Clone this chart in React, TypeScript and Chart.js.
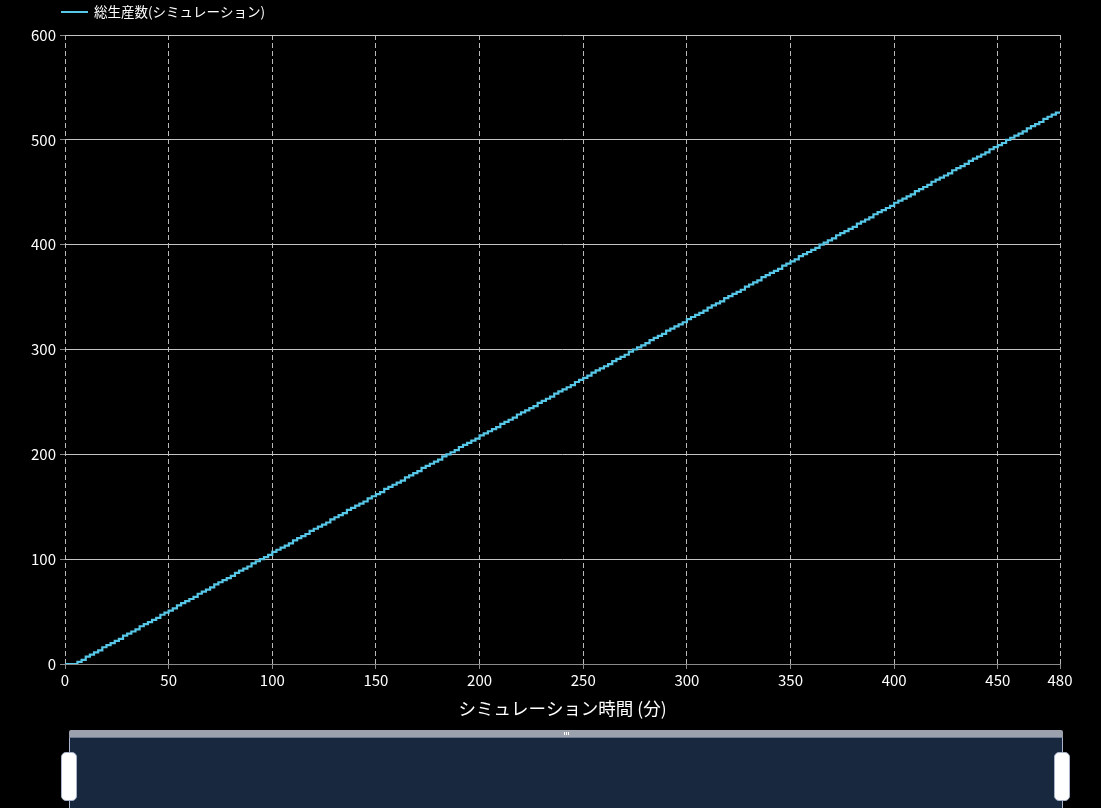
import React, { useEffect, useRef } from "react";
import { Chart, registerables } from "chart.js";

Chart.register(...registerables);

// Simulation time (minutes), sampled every 2 minutes
const simTimes = [
  0, 2, 4, 6, 8, 10, 12, 14, 16, 18,
  20, 22, 24, 26, 28, 30, 32, 34, 36, 38,
  40, 42, 44, 46, 48, 50, 52, 54, 56, 58,
  60, 62, 64, 66, 68, 70, 72, 74, 76, 78,
  80, 82, 84, 86, 88, 90, 92, 94, 96, 98,
  100, 102, 104, 106, 108, 110, 112, 114, 116, 118,
  120, 122, 124, 126, 128, 130, 132, 134, 136, 138,
  140, 142, 144, 146, 148, 150, 152, 154, 156, 158,
  160, 162, 164, 166, 168, 170, 172, 174, 176, 178,
  180, 182, 184, 186, 188, 190, 192, 194, 196, 198,
  200, 202, 204, 206, 208, 210, 212, 214, 216, 218,
  220, 222, 224, 226, 228, 230, 232, 234, 236, 238,
  240, 242, 244, 246, 248, 250, 252, 254, 256, 258,
  260, 262, 264, 266, 268, 270, 272, 274, 276, 278,
  280, 282, 284, 286, 288, 290, 292, 294, 296, 298,
  300, 302, 304, 306, 308, 310, 312, 314, 316, 318,
  320, 322, 324, 326, 328, 330, 332, 334, 336, 338,
  340, 342, 344, 346, 348, 350, 352, 354, 356, 358,
  360, 362, 364, 366, 368, 370, 372, 374, 376, 378,
  380, 382, 384, 386, 388, 390, 392, 394, 396, 398,
  400, 402, 404, 406, 408, 410, 412, 414, 416, 418,
  420, 422, 424, 426, 428, 430, 432, 434, 436, 438,
  440, 442, 444, 446, 448, 450, 452, 454, 456, 458,
  460, 462, 464, 466, 468, 470, 472, 474, 476, 478,
  480,
];

// Cumulative total production (units) at each sampled time
const totalProduced = [
  0, 0, 0, 0, 2, 4, 7, 9, 11, 13,
  16, 18, 20, 22, 24, 27, 29, 31, 33, 36,
  38, 40, 42, 44, 47, 49, 51, 53, 56, 58,
  60, 62, 64, 67, 69, 71, 73, 76, 78, 80,
  82, 84, 87, 89, 91, 93, 96, 98, 100, 102,
  104, 107, 109, 111, 113, 115, 118, 120, 122, 124,
  127, 129, 131, 133, 135, 138, 140, 142, 144, 147,
  149, 151, 153, 155, 158, 160, 162, 164, 167, 169,
  171, 173, 175, 178, 180, 182, 184, 187, 189, 191,
  193, 195, 198, 200, 202, 204, 207, 209, 211, 213,
  215, 218, 220, 222, 224, 226, 229, 231, 233, 235,
  238, 240, 242, 244, 246, 249, 251, 253, 255, 258,
  260, 262, 264, 266, 269, 271, 273, 275, 278, 280,
  282, 284, 286, 289, 291, 293, 295, 298, 300, 302,
  304, 306, 309, 311, 313, 315, 318, 320, 322, 324,
  326, 329, 331, 333, 335, 337, 340, 342, 344, 346,
  349, 351, 353, 355, 357, 360, 362, 364, 366, 369,
  371, 373, 375, 377, 380, 382, 384, 386, 389, 391,
  393, 395, 397, 400, 402, 404, 406, 409, 411, 413,
  415, 417, 420, 422, 424, 426, 429, 431, 433, 435,
  437, 440, 442, 444, 446, 448, 451, 453, 455, 457,
  460, 462, 464, 466, 468, 471, 473, 475, 477, 480,
  482, 484, 486, 488, 491, 493, 495, 497, 500, 502,
  504, 506, 508, 511, 513, 515, 517, 520, 522, 524,
  526,
];

const xTickValues = [0, 50, 100, 150, 200, 250, 300, 350, 400, 450, 480];
const yTickValues = [0, 100, 200, 300, 400, 500, 600];

const seriesName = "総生産数(シミュレーション)";
const xAxisTitle = "シミュレーション時間 (分)";

const FONT = "'Noto Sans CJK JP', 'Noto Sans', sans-serif";
const LINE_COLOR = "#58c8e8";

export default function App() {
  const canvasRef = useRef<HTMLCanvasElement | null>(null);

  useEffect(() => {
    const canvas = canvasRef.current;
    if (!canvas) return;

    const legendPlugin = {
      id: "customLegend",
      afterDraw(chart: any) {
        const ctx = chart.ctx;
        ctx.save();
        ctx.strokeStyle = LINE_COLOR;
        ctx.lineWidth = 2;
        ctx.beginPath();
        ctx.moveTo(61, 12);
        ctx.lineTo(88, 12);
        ctx.stroke();
        ctx.fillStyle = "#ffffff";
        ctx.font = `13.5px ${FONT}`;
        ctx.textBaseline = "middle";
        ctx.textAlign = "left";
        ctx.fillText(chart.data.datasets[0].label, 94, 12);
        ctx.restore();
      },
    };

    const chart = new Chart(canvas, {
      type: "line",
      data: {
        datasets: [
          {
            label: seriesName,
            data: simTimes.map((t, i) => ({ x: t, y: totalProduced[i] })),
            borderColor: LINE_COLOR,
            backgroundColor: LINE_COLOR,
            borderWidth: 2.2,
            pointRadius: 0,
            stepped: "after",
            fill: false,
          },
        ],
      },
      options: {
        responsive: false,
        animation: false,
        devicePixelRatio: 1,
        layout: { padding: { left: 0, top: 35, right: 41, bottom: 89 } },
        plugins: {
          legend: { display: false },
          tooltip: { enabled: false },
        },
        scales: {
          x: {
            type: "linear",
            min: 0,
            max: 480,
            afterBuildTicks: (scale: any) => {
              scale.ticks = xTickValues.map((v) => ({ value: v }));
            },
            afterFit: (scale: any) => {
              scale.height = 55;
            },
            ticks: {
              color: "#ffffff",
              font: { family: FONT, size: 15 },
              padding: 2,
              autoSkip: false,
              maxRotation: 0,
              minRotation: 0,
            },
            grid: {
              color: "#b8b8b8",
              lineWidth: 1,
              tickColor: "#8a8a8a",
              tickLength: 5,
              tickBorderDash: [],
            },
            border: { display: true, color: "#8a8a8a", width: 1, dash: [5, 3] },
            title: {
              display: true,
              text: xAxisTitle,
              color: "#ffffff",
              font: { family: FONT, size: 17.5 },
              padding: { top: 0, bottom: 0 },
            },
          },
          y: {
            type: "linear",
            min: 0,
            max: 600,
            afterBuildTicks: (scale: any) => {
              scale.ticks = yTickValues.map((v) => ({ value: v }));
            },
            afterFit: (scale: any) => {
              scale.width = 65;
            },
            ticks: {
              color: "#ffffff",
              font: { family: FONT, size: 15 },
              padding: 4,
            },
            grid: {
              color: (ctx: any) => (ctx.tick && ctx.tick.value === 0 ? "#8a8a8a" : "#c4c4c4"),
              lineWidth: 1,
              tickColor: "#8a8a8a",
              tickLength: 5,
            },
            border: { display: false },
          },
        },
      },
      plugins: [legendPlugin],
    } as any);

    return () => {
      chart.destroy();
    };
  }, []);

  return (
    <div
      style={{
        position: "fixed",
        left: 0,
        top: 0,
        width: 1101,
        height: 808,
        background: "#000",
        overflow: "hidden",
      }}
    >
      <canvas
        ref={canvasRef}
        width={1101}
        height={808}
        style={{ position: "absolute", left: 0, top: 0, display: "block" }}
      />
      {/* data zoom slider */}
      <div
        style={{
          position: "absolute",
          left: 69,
          top: 730,
          width: 994,
          height: 7,
          background: "#9ca1ae",
          borderTopRightRadius: 2,
          borderTopLeftRadius: 2,
        }}
      />
      <div style={{ position: "absolute", left: 564, top: 732, width: 1, height: 3, background: "#fff" }} />
      <div style={{ position: "absolute", left: 566, top: 732, width: 1, height: 3, background: "#fff" }} />
      <div style={{ position: "absolute", left: 568, top: 732, width: 1, height: 3, background: "#fff" }} />
      <div
        style={{
          position: "absolute",
          left: 69,
          top: 737,
          width: 992,
          height: 90,
          background: "#18283f",
          borderLeft: "1px solid #a9b4cb",
          borderRight: "1px solid #a9b4cb",
          borderTop: "1px solid #6d7a93",
        }}
      />
      <div
        style={{
          position: "absolute",
          left: 61,
          top: 752,
          width: 14,
          height: 47,
          background: "#ffffff",
          borderRadius: 5,
          border: "1px solid #a9b4cb",
        }}
      />
      <div
        style={{
          position: "absolute",
          left: 1054,
          top: 752,
          width: 14,
          height: 47,
          background: "#ffffff",
          borderRadius: 5,
          border: "1px solid #a9b4cb",
        }}
      />
    </div>
  );
}
